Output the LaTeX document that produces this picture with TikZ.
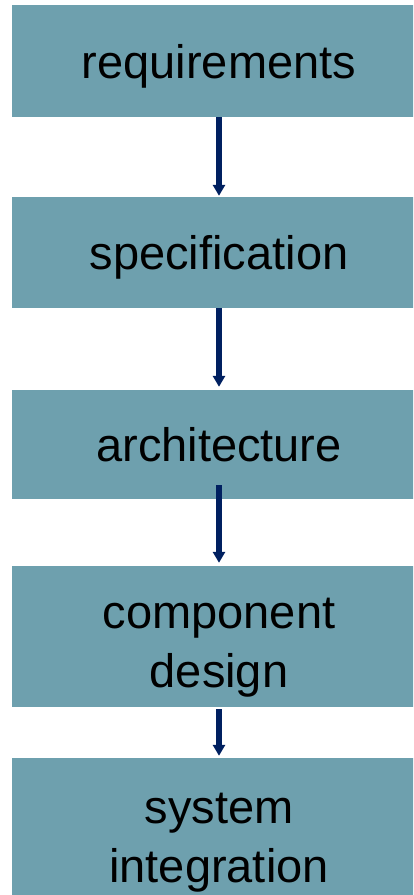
\documentclass[tikz,border=0pt]{standalone}
\usepackage{fontspec}
\setmainfont{Liberation Sans}
\usetikzlibrary{arrows.meta}
\definecolor{boxfill}{RGB}{110,160,174}
\definecolor{flowarrow}{RGB}{0,32,96}
\begin{document}
\begin{tikzpicture}[x=1pt,y=-1pt,
  stage/.style={rectangle, fill=boxfill, draw=none, inner sep=0pt,
    minimum width=415pt, align=center, text=black,
    font=\fontsize{47}{59}\selectfont},
  oneline/.style={text height=34pt, text depth=0pt},
  twoline/.style={text height=101pt, text depth=0pt},
  flow/.style={-{Triangle[width=12pt,length=11pt]}, line width=6pt,
    draw=flowarrow}]
\useasboundingbox (0,0) rectangle (413,895);
\clip (0,0) rectangle (413,895);

% process stages, top to bottom
\node[stage, oneline, minimum height=112pt] (req)  at (219,61)    {requirements};
\node[stage, oneline, minimum height=111pt] (spec) at (219,252.5) {specification};
\node[stage, oneline, minimum height=109pt] (arch) at (219,444.5) {architecture};
\node[stage, twoline, minimum height=141pt] (comp) at (219,636.5) {component\\design};
\node[stage, twoline, minimum height=147pt] (sys)  at (219,831.5) {system\\integration};

% flow arrows between stages
\draw[flow, shorten >=1pt] (req.south) -- (spec.north);
\draw[flow, shorten >=3pt] (spec.south) -- (arch.north);
\draw[flow, shorten >=3pt] ([yshift=14pt]arch.south) -- (comp.north);
\draw[flow, shorten <=2pt, shorten >=2pt] (comp.south) -- (sys.north);
\end{tikzpicture}
\end{document}
